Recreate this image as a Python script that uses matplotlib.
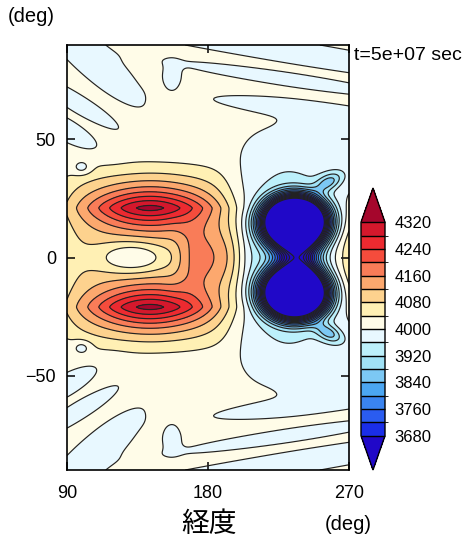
import numpy as np
import matplotlib
matplotlib.use("Agg")
import matplotlib.pyplot as plt
from matplotlib.colors import ListedColormap, BoundaryNorm

plt.rcParams['font.family'] = ['Liberation Sans', 'Noto Sans CJK JP', 'DejaVu Sans']

# ---------------- data ----------------
fill_levels = np.arange(3680, 4321, 40)
line_levels = np.arange(3480, 4321, 40)
cbar_ticks = [3680, 3760, 3840, 3920, 4000, 4080, 4160, 4240, 4320]
box_colors = ['#1a2ee8', '#2a5cf0', '#3a84f0', '#4ba6f2', '#7cc8f4', '#a0e2f6',
              '#bcf0fb', '#e8f8ff', '#fffce8', '#fff0b4', '#fdd28e', '#fca86e',
              '#f97c58', '#f54c3c', '#ec2a30', '#d4182c']
under_color = '#2008c8'
over_color = '#a5062c'
xticks = [90, 180, 270]
yticks = [-50, 0, 50]
base_value = 4015.0

# field components: centre lon/lat, amplitude, half widths, rotation, shape powers
comp_lon = [140, 143, 143, 132, 182,
            235.5, 235.5, 237.5, 255, 231, 257, 257, 295,
            105, 95, 88, 99.5, 225, 230, 157, 235, 258,
            105, 95, 88, 99.5, 225, 230, 157, 235, 258]
comp_lat = [0, 21, -21, 0, 0,
            15, -15, 0, 0, 0, 32, -32, 0,
            85, 66, 54.5, 38, 88, 75.5, 77, 63.5, 57.5,
            -85, -66, -54.5, -38, -88, -75.5, -77, -63.5, -57.5]
comp_amp = [70, 250, 250, -100, 90,
            -1000, -1000, -280, -32, -80, -120, -120, 210,
            -40, -40, -40, -50, -40, -40, -40, -40, -30,
            -40, -40, -40, -50, -40, -40, -40, -40, -30]
comp_sa = [54, 38, 38, 22, 20,
           21, 21, 13, 58, 25, 9, 9, 28,
           40, 30, 24, 6, 150, 70, 6, 52, 22,
           40, 30, 24, 6, 150, 70, 6, 52, 22]
comp_sb = [37, 9, 9, 7, 14,
           11, 11, 8, 54, 34, 3.5, 3.5, 22,
           9, 4, 5, 3, 5, 2.8, 5.5, 3.5, 4,
           9, 4, 5, 3, 5, 2.8, 5.5, 3.5, 4]
comp_ang = [0, 0, 0, 0, 0,
            0, 0, 0, 0, 0, 15, -15, 0,
            -30, -22, -20, 0, -6.3, -5.7, 0, -4, 0,
            30, 22, 20, 0, 6.3, 5.7, 0, 4, 0]
comp_pa = [6, 2, 2, 2, 4,
           2, 2, 2, 6, 2, 2, 2, 2,
           2, 2, 2, 2, 2, 2, 2, 2, 2,
           2, 2, 2, 2, 2, 2, 2, 2, 2]
comp_pb = [6, 1.4, 1.4, 2, 2,
           2, 2, 2, 6, 2, 2, 2, 2,
           2, 2, 2, 2, 2, 2, 2, 2, 2,
           2, 2, 2, 2, 2, 2, 2, 2, 2]
comp_k = [1, 1, 1, 1, 1,
          1.5, 1.5, 1, 1, 1, 1, 1, 1,
          1, 1, 1, 1, 1, 1, 1, 1, 1,
          1, 1, 1, 1, 1, 1, 1, 1, 1]

# ---------------- field ----------------
lon = np.linspace(90, 270, 361)
lat = np.linspace(-90, 90, 361)
LON, LAT = np.meshgrid(lon, lat)
Z = np.full(LON.shape, base_value)
for x0, y0, amp, sa, sb, ang, pa, pb, k in zip(comp_lon, comp_lat, comp_amp, comp_sa,
                                               comp_sb, comp_ang, comp_pa, comp_pb,
                                               comp_k):
    th = np.deg2rad(ang)
    dx = LON - x0
    dy = LAT - y0
    a = dx * np.cos(th) + dy * np.sin(th)
    c = -dx * np.sin(th) + dy * np.cos(th)
    q = np.abs(a / sa) ** pa + np.abs(c / sb) ** pb
    Z += amp * np.exp(-q ** k)

# ---------------- plot ----------------
W, H = 467, 537
fig = plt.figure(figsize=(W / 100, H / 100), dpi=100)
ax = fig.add_axes([67 / W, 1 - 470 / H, 282 / W, 425 / H])

cmap = ListedColormap(box_colors).with_extremes(under=under_color, over=over_color)
norm = BoundaryNorm(fill_levels, cmap.N)
cf = ax.contourf(lon, lat, Z, levels=fill_levels, cmap=cmap, norm=norm, extend='both')
ax.contour(lon, lat, Z, levels=line_levels, colors='#222222', linewidths=0.85)

ax.set_xlim(90, 270)
ax.set_ylim(-90, 90)
ax.set_xticks(xticks)
ax.set_yticks(yticks)
ax.tick_params(direction='in', length=6, width=1.1, top=True, right=True,
               labelsize=13, colors='black')
ax.tick_params(axis='x', pad=11)
ax.tick_params(axis='y', pad=8)
for s in ax.spines.values():
    s.set_linewidth(1.2)

cax = fig.add_axes([361 / W, 1 - 470 / H, 24 / W, 282 / H])
cb = fig.colorbar(cf, cax=cax, extendfrac=0.16, drawedges=True, ticks=cbar_ticks)
cb.ax.tick_params(length=0, labelsize=12, pad=7)
cb.outline.set_linewidth(1.0)
cb.dividers.set_linewidth(1.0)
cb.dividers.set_color('black')

fig.text(8 / W, 1 - 17 / H, '(deg)', fontsize=14.5, va='center', ha='left')
fig.text(354 / W, 1 - 55 / H, 't=5e+07 sec', fontsize=14, va='center', ha='left')
fig.text(209 / W, 1 - 525 / H, '経度', fontsize=20, va='center', ha='center')
fig.text(348 / W, 1 - 524 / H, '(deg)', fontsize=14.5, va='center', ha='center')

fig.savefig('out.png', dpi=100)
